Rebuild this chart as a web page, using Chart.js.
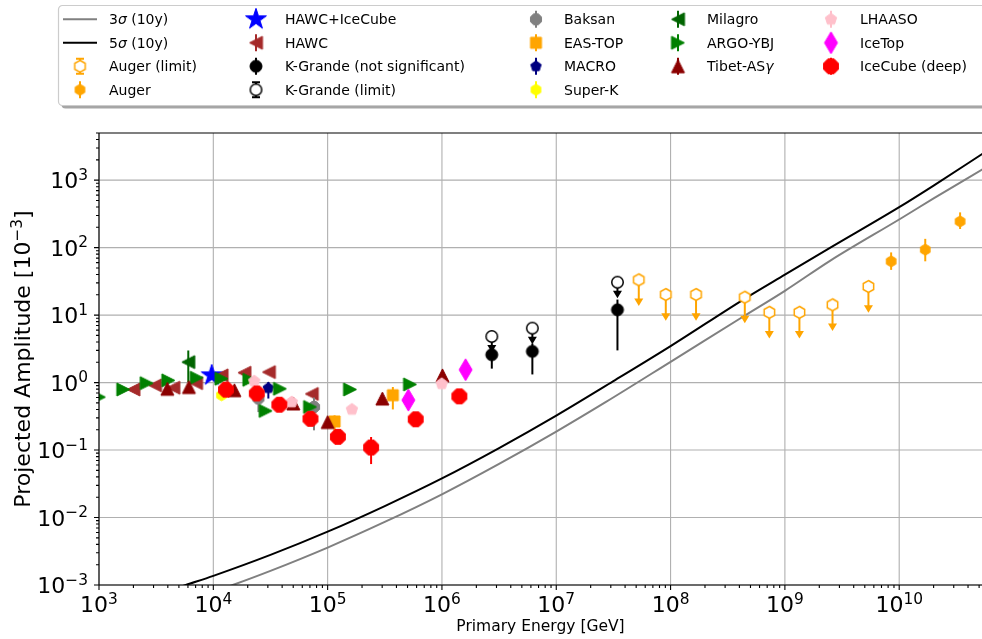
<!DOCTYPE html>
<html>
<head>
<meta charset="utf-8">
<title>Projected amplitude vs primary energy</title>
<script src="https://cdn.jsdelivr.net/npm/chart.js@4.4.1/dist/chart.umd.min.js"></script>
<style>
  html, body { margin: 0; padding: 0; background: #fff; }
  canvas { display: block; }
</style>
</head>
<body>
<canvas id="ampChart" width="982" height="639"></canvas>
<script>
// energies in GeV, amplitudes in units of 1e-3

// 10-year sensitivity curves
const sens3Energy = [1e4, 1.48e4, 3.16e4, 1e5, 3.16e5, 1e6, 3.16e6, 1e7, 2.7e7, 1.05e8, 4.47e8, 1e9, 2.5e9, 1.05e10, 2e10, 5.4e10];
const sens3Amp    = [7.9e-4, 1.0e-3, 1.62e-3, 3.59e-3, 8.6e-3, 0.0221, 0.0624, 0.188, 0.513, 2.14, 9.86, 22.9, 64.3, 275, 537, 1460];
const sens5Energy = [3.98e3, 5.75e3, 1e4, 3.16e4, 1e5, 3.16e5, 1e6, 3.16e6, 1e7, 3.16e7, 1e8, 4.47e8, 1e9, 2.5e9, 1e10, 2e10, 5.4e10];
const sens5Amp    = [8.1e-4, 1.0e-3, 1.365e-3, 2.79e-3, 6.17e-3, 0.0148, 0.038, 0.107, 0.324, 1.05, 3.47, 17.6, 39.8, 100, 398, 832, 2480];

// measurements
const augerLimEnergy = [5.27e7, 9.08e7, 1.67e8, 4.46e8, 7.31e8, 1.34e9, 2.61e9, 5.38e9];
const augerLimAmp    = [33.3, 20.2, 20.2, 18.4, 11.0, 11.0, 14.2, 26.5];

const augerEnergy = [8.5e9, 1.69e10, 3.41e10];
const augerAmp    = [62.7, 93.3, 245];
const augerLo     = [46.8, 62.7, 189];
const augerHi     = [85, 135, 333];

const hawcIceEnergy = [9.68e3];
const hawcIceAmp    = [1.28];

const hawcEnergy = [2.0e3, 3.09e3, 4.47e3, 7.06e3, 1.18e4, 1.87e4, 3.06e4, 7.26e4];
const hawcAmp    = [0.79, 0.91, 0.84, 0.98, 1.28, 1.40, 1.43, 0.68];

const kgEnergy = [2.73e6, 6.18e6, 3.43e7];
const kgAmp    = [2.59, 2.90, 12.0];
const kgLo     = [1.61, 1.32, 3.0];
const kgHi     = [3.4, 3.8, 17];

const kgLimEnergy = [2.73e6, 6.18e6, 3.43e7];
const kgLimAmp    = [4.82, 6.40, 30.7];

const baksanEnergy = [2.48e4, 7.6e4];
const baksanAmp    = [0.58, 0.435];
const baksanLo     = [0.365, 0.196];
const baksanHi     = [0.75, 0.60];

const easTopEnergy = [1.15e5, 3.72e5];
const easTopAmp    = [0.265, 0.65];
const easTopLo     = [0.185, 0.40];
const easTopHi     = [0.327, 0.86];

const macroEnergy = [3.03e4];
const macroAmp    = [0.83];
const macroLo     = [0.58];
const macroHi     = [1.02];

const superKEnergy = [1.18e4];
const superKAmp    = [0.65];

const milagroEnergy = [6.04e3];
const milagroAmp    = [2.01];
const milagroLo     = [1.02];
const milagroHi     = [2.99];

const argoEnergy = [1.0e3, 1.63e3, 2.61e3, 4.04e3, 7.16e3, 1.18e4, 2.07e4, 2.87e4, 3.83e4, 7.02e4, 1.57e5, 5.26e5];
const argoAmp    = [0.61, 0.79, 0.98, 1.08, 1.18, 1.14, 1.10, 0.38, 0.81, 0.435, 0.79, 0.94];

const tibetEnergy = [3.96e3, 6.12e3, 1.53e4, 5.01e4, 1.0e5, 3.01e5, 1.01e6];
const tibetAmp    = [0.81, 0.86, 0.77, 0.49, 0.26, 0.58, 1.28];

const lhaasoEnergy = [2.28e4, 4.86e4, 1.63e5, 9.96e5];
const lhaasoAmp    = [1.05, 0.515, 0.40, 0.96];

const iceTopEnergy = [5.08e5, 1.61e6];
const iceTopAmp    = [0.55, 1.55];

const iceCubeEnergy = [1.29e4, 2.40e4, 3.78e4, 7.08e4, 1.23e5, 2.40e5, 5.90e5, 1.42e6];
const iceCubeAmp    = [0.785, 0.69, 0.47, 0.29, 0.157, 0.109, 0.286, 0.625];
const iceCubeLo     = [null, null, null, null, null, 0.062, null, null];
const iceCubeHi     = [null, null, null, null, null, 0.156, null, null];

// axis decades that get a labelled tick
const xTickExp = [3, 4, 5, 6, 7, 8, 9, 10];
const yTickExp = [-3, -2, -1, 0, 1, 2, 3];

const FONT = '"DejaVu Sans", sans-serif';

// ---- marker sprites (matplotlib-like shapes) ----
function shapePath(g, shape, cx, cy, w, h) {
  const rx = w / 2, ry = h / 2;
  g.beginPath();
  if (shape === 'circle') {
    g.arc(cx, cy, rx, 0, Math.PI * 2);
  } else if (shape === 'square') {
    g.rect(cx - rx, cy - ry, w, h);
  } else if (shape === 'diamond') {
    g.moveTo(cx, cy - ry); g.lineTo(cx + rx, cy); g.lineTo(cx, cy + ry); g.lineTo(cx - rx, cy);
  } else if (shape === 'triUp') {
    g.moveTo(cx, cy - ry); g.lineTo(cx + rx, cy + ry); g.lineTo(cx - rx, cy + ry);
  } else if (shape === 'triLeft') {
    g.moveTo(cx - rx, cy); g.lineTo(cx + rx, cy - ry); g.lineTo(cx + rx, cy + ry);
  } else if (shape === 'triRight') {
    g.moveTo(cx + rx, cy); g.lineTo(cx - rx, cy + ry); g.lineTo(cx - rx, cy - ry);
  } else if (shape === 'star') {
    for (let k = 0; k < 10; k++) {
      const r = k % 2 ? rx * 0.382 : rx;
      const a = -Math.PI / 2 + k * Math.PI / 5;
      k ? g.lineTo(cx + r * Math.cos(a), cy + r * Math.sin(a)) : g.moveTo(cx + r * Math.cos(a), cy + r * Math.sin(a));
    }
  } else {
    const n = { pent: 5, hex: 6, oct: 8 }[shape];
    const a0 = -Math.PI / 2 + (shape === 'oct' ? Math.PI / 8 : 0);
    for (let k = 0; k < n; k++) {
      const a = a0 + k * 2 * Math.PI / n;
      k ? g.lineTo(cx + rx * Math.cos(a), cy + rx * Math.sin(a)) : g.moveTo(cx + rx * Math.cos(a), cy + rx * Math.sin(a));
    }
  }
  g.closePath();
}

function makeMarker(shape, w, h, fill, stroke, lw) {
  const c = document.createElement('canvas');
  c.width = Math.ceil(w + 2 * lw + 2);
  c.height = Math.ceil(h + 2 * lw + 2);
  const g = c.getContext('2d');
  shapePath(g, shape, c.width / 2, c.height / 2, w, h);
  if (fill) { g.fillStyle = fill; g.fill(); }
  if (stroke) { g.strokeStyle = stroke; g.lineWidth = lw; g.stroke(); }
  return c;
}

const markers = {
  augerLim: makeMarker('hex', 12, 12, '#ffffff', '#ffa500', 1.5),
  auger:    makeMarker('hex', 11, 11, '#ffa500', '#ffa500', 1),
  hawcIce:  makeMarker('star', 22, 22, '#0000ff', '#0000ff', 1),
  hawc:     makeMarker('triLeft', 13, 13, '#a52a2a', '#a52a2a', 1),
  kg:       makeMarker('circle', 12, 12, '#000000', '#000000', 1),
  kgLim:    makeMarker('circle', 11.5, 11.5, '#ffffff', '#000000', 1.5),
  baksan:   makeMarker('oct', 12, 12, '#808080', '#808080', 1),
  easTop:   makeMarker('square', 11, 11, '#ffa500', '#ffa500', 1),
  macro:    makeMarker('pent', 11, 11, '#000080', '#000080', 1),
  superK:   makeMarker('hex', 11, 11, '#ffff00', '#ffff00', 1),
  milagro:  makeMarker('triLeft', 13, 13, '#006400', '#006400', 1),
  argo:     makeMarker('triRight', 13, 13, '#008000', '#008000', 1),
  tibet:    makeMarker('triUp', 13, 13, '#8b0000', '#8b0000', 1),
  lhaaso:   makeMarker('pent', 12, 12, '#ffc0cb', '#ffc0cb', 1),
  iceTop:   makeMarker('diamond', 13, 22, '#ff00ff', '#ff00ff', 1),
  iceCube:  makeMarker('oct', 16, 16, '#ff0000', '#ff0000', 1)
};

function pts(E, A) { return E.map((e, i) => ({ x: e, y: A[i] })); }

function curve(label, E, A, color) {
  return { label, data: pts(E, A), showLine: true, borderColor: color, borderWidth: 2,
           pointRadius: 0, cubicInterpolationMode: 'monotone', fill: false, legendLine: color };
}

function series(label, E, A, key, color, extra) {
  return Object.assign({
    label, data: pts(E, A), pointStyle: markers[key], pointRadius: 8,
    backgroundColor: color, borderColor: color, showLine: false,
    barColor: color, legendMarker: markers[key], legendBar: true
  }, extra || {});
}

const datasets = [
  curve('3σ (10y)', sens3Energy, sens3Amp, '#808080'),
  curve('5σ (10y)', sens5Energy, sens5Amp, '#000000'),
  series('Auger (limit)', augerLimEnergy, augerLimAmp, 'augerLim', '#ffa500', { limitTo: 0.41, legendCaps: true }),
  series('Auger', augerEnergy, augerAmp, 'auger', '#ffa500', { errLo: augerLo, errHi: augerHi }),
  series('HAWC+IceCube', hawcIceEnergy, hawcIceAmp, 'hawcIce', '#0000ff', { legendBar: false }),
  series('HAWC', hawcEnergy, hawcAmp, 'hawc', '#a52a2a'),
  series('K-Grande (not significant)', kgEnergy, kgAmp, 'kg', '#000000', { errLo: kgLo, errHi: kgHi }),
  series('K-Grande (limit)', kgLimEnergy, kgLimAmp, 'kgLim', '#000000', { limitTo: 0.58, legendCaps: true }),
  series('Baksan', baksanEnergy, baksanAmp, 'baksan', '#808080', { errLo: baksanLo, errHi: baksanHi }),
  series('EAS-TOP', easTopEnergy, easTopAmp, 'easTop', '#ffa500', { errLo: easTopLo, errHi: easTopHi }),
  series('MACRO', macroEnergy, macroAmp, 'macro', '#000080', { errLo: macroLo, errHi: macroHi }),
  series('Super-K', superKEnergy, superKAmp, 'superK', '#ffff00'),
  series('Milagro', milagroEnergy, milagroAmp, 'milagro', '#006400', { errLo: milagroLo, errHi: milagroHi }),
  series('ARGO-YBJ', argoEnergy, argoAmp, 'argo', '#008000'),
  series('Tibet-ASγ', tibetEnergy, tibetAmp, 'tibet', '#8b0000'),
  series('LHAASO', lhaasoEnergy, lhaasoAmp, 'lhaaso', '#ffc0cb'),
  series('IceTop', iceTopEnergy, iceTopAmp, 'iceTop', '#ff00ff'),
  series('IceCube (deep)', iceCubeEnergy, iceCubeAmp, 'iceCube', '#ff0000', { errLo: iceCubeLo, errHi: iceCubeHi })
];
// later entries sit on top, as in the legend order
datasets.forEach((d, i) => { d.order = -i; });

// ---- text helpers ----
function richRuns(text) {
  return text.split(/([σγ])/).filter(s => s.length).map(s => ({ s, it: /^[σγ]$/.test(s) }));
}
function drawRich(ctx, text, x, y, size) {
  let cx = x;
  for (const r of richRuns(text)) {
    ctx.font = (r.it ? 'italic ' : '') + size + 'px ' + FONT;
    ctx.fillText(r.s, cx, y);
    cx += ctx.measureText(r.s).width;
  }
}
// "10" with a raised exponent
function drawPower(ctx, exp, x, y, align) {
  const sup = exp < 0 ? '\u2212' + Math.abs(exp) : String(exp);
  ctx.font = '22px ' + FONT;
  const wb = ctx.measureText('10').width;
  ctx.font = '15.4px ' + FONT;
  const ws = ctx.measureText(sup).width;
  const left = align === 'right' ? x - wb - ws : x - (wb + ws) / 2;
  ctx.font = '22px ' + FONT;
  ctx.fillText('10', left, y);
  ctx.font = '15.4px ' + FONT;
  ctx.fillText(sup, left + wb, y - 8.5);
}

// ---- plugins ----
const errorBars = {
  id: 'errorBars',
  beforeDatasetDraw(chart, args) {
    const ds = chart.data.datasets[args.index];
    if (!ds.errLo && !ds.limitTo) return;
    const { ctx, chartArea: a, scales: { x: xs, y: ys } } = chart;
    ctx.save();
    ctx.beginPath();
    ctx.rect(a.left, a.top, a.right - a.left, a.bottom - a.top);
    ctx.clip();
    ctx.strokeStyle = ds.barColor;
    ctx.fillStyle = ds.barColor;
    ctx.lineWidth = 2;
    ds.data.forEach((p, i) => {
      const px = xs.getPixelForValue(p.x);
      if (ds.errLo && ds.errLo[i] != null) {
        ctx.beginPath();
        ctx.moveTo(px, ys.getPixelForValue(ds.errLo[i]));
        ctx.lineTo(px, ys.getPixelForValue(ds.errHi[i]));
        ctx.stroke();
      }
      if (ds.limitTo) {
        const y0 = ys.getPixelForValue(p.y);
        const tip = ys.getPixelForValue(p.y * ds.limitTo);
        ctx.beginPath();
        ctx.moveTo(px, y0);
        ctx.lineTo(px, tip - 5);
        ctx.stroke();
        ctx.beginPath();
        ctx.moveTo(px - 4.5, tip - 7.5);
        ctx.lineTo(px + 4.5, tip - 7.5);
        ctx.lineTo(px, tip);
        ctx.closePath();
        ctx.fill();
      }
    });
    ctx.restore();
  }
};

const axesFrame = {
  id: 'axesFrame',
  beforeDatasetsDraw(chart) {
    const { ctx, chartArea: a, scales: { x, y } } = chart;
    ctx.save();
    ctx.strokeStyle = '#b0b0b0';
    ctx.lineWidth = 1.1;
    ctx.beginPath();
    xTickExp.forEach(e => {
      const px = x.getPixelForValue(Math.pow(10, e));
      ctx.moveTo(px, a.top); ctx.lineTo(px, a.bottom);
    });
    yTickExp.forEach(e => {
      const py = y.getPixelForValue(Math.pow(10, e));
      ctx.moveTo(a.left, py); ctx.lineTo(a.right, py);
    });
    ctx.stroke();
    ctx.restore();
  },
  afterDatasetsDraw(chart) {
    const { ctx, chartArea: a, scales: { x, y } } = chart;
    ctx.save();
    ctx.strokeStyle = '#000';
    ctx.lineWidth = 1.1;
    ctx.beginPath();
    ctx.moveTo(a.left, a.top); ctx.lineTo(a.right, a.top);
    ctx.moveTo(a.left, a.top); ctx.lineTo(a.left, a.bottom);
    ctx.moveTo(a.left, a.bottom); ctx.lineTo(a.right, a.bottom);
    // major and minor ticks, pointing outwards
    for (let e = 2; e <= 11; e++) {
      for (let m = 1; m <= 9; m++) {
        const v = m * Math.pow(10, e);
        if (v < x.min || v > x.max) continue;
        const px = x.getPixelForValue(v);
        ctx.moveTo(px, a.bottom); ctx.lineTo(px, a.bottom + (m === 1 ? 5 : 3));
      }
    }
    for (let e = -4; e <= 4; e++) {
      for (let m = 1; m <= 9; m++) {
        const v = m * Math.pow(10, e);
        if (v < y.min || v > y.max) continue;
        const py = y.getPixelForValue(v);
        ctx.moveTo(a.left, py); ctx.lineTo(a.left - (m === 1 ? 5 : 3), py);
      }
    }
    ctx.stroke();

    ctx.fillStyle = '#000';
    ctx.textBaseline = 'alphabetic';
    xTickExp.forEach(e => drawPower(ctx, e, x.getPixelForValue(Math.pow(10, e)), 612, 'center'));
    yTickExp.forEach(e => drawPower(ctx, e, 88, y.getPixelForValue(Math.pow(10, e)) + 8, 'right'));

    // axis titles
    ctx.font = '15.5px ' + FONT;
    ctx.textAlign = 'center';
    ctx.fillText('Primary Energy [GeV]', (a.left + a.right) / 2, 631);
    ctx.textAlign = 'left';

    ctx.translate(30, (a.top + a.bottom) / 2);
    ctx.rotate(-Math.PI / 2);
    ctx.font = '22px ' + FONT;
    const t1 = 'Projected Amplitude [10', t2 = '\u22123', t3 = ']';
    const w1 = ctx.measureText(t1).width, w3 = ctx.measureText(t3).width;
    ctx.font = '15.4px ' + FONT;
    const w2 = ctx.measureText(t2).width;
    let cx = -(w1 + w2 + w3) / 2;
    ctx.font = '22px ' + FONT;
    ctx.fillText(t1, cx, 0); cx += w1;
    ctx.font = '15.4px ' + FONT;
    ctx.fillText(t2, cx, -8.5); cx += w2;
    ctx.font = '22px ' + FONT;
    ctx.fillText(t3, cx, 0);
    ctx.restore();
  }
};

function roundRect(ctx, l, t, r, b, rad) {
  ctx.beginPath();
  ctx.moveTo(l + rad, t);
  ctx.arcTo(r, t, r, b, rad);
  ctx.arcTo(r, b, l, b, rad);
  ctx.arcTo(l, b, l, t, rad);
  ctx.arcTo(l, t, r, t, rad);
  ctx.closePath();
}

const legendBox = { left: 58.5, top: 5.5, right: 995, bottom: 105.5 };
const legendCols = [{ mark: 80, text: 109 }, { mark: 256, text: 285 }, { mark: 536, text: 564 },
                    { mark: 678, text: 707 }, { mark: 831, text: 860 }];
const legendRows = [19.3, 42.8, 66.3, 89.8];
const legendPerCol = [4, 4, 4, 3, 3];

const framedLegend = {
  id: 'framedLegend',
  afterDraw(chart) {
    const ctx = chart.ctx, b = legendBox;
    ctx.save();
    roundRect(ctx, b.left + 3, b.top + 3, b.right + 3, b.bottom + 3, 4);
    ctx.fillStyle = 'rgba(77,77,77,0.5)';
    ctx.fill();
    roundRect(ctx, b.left, b.top, b.right, b.bottom, 4);
    ctx.fillStyle = '#ffffff';
    ctx.fill();
    ctx.strokeStyle = '#cccccc';
    ctx.lineWidth = 1.2;
    ctx.stroke();

    let idx = 0;
    legendPerCol.forEach((n, c) => {
      for (let r = 0; r < n; r++, idx++) {
        const ds = chart.data.datasets[idx];
        const mx = legendCols[c].mark, my = legendRows[r];
        if (ds.legendLine) {
          ctx.strokeStyle = ds.legendLine;
          ctx.lineWidth = 2;
          ctx.beginPath();
          ctx.moveTo(mx - 17, my); ctx.lineTo(mx + 17, my);
          ctx.stroke();
        } else {
          ctx.strokeStyle = ds.barColor;
          ctx.lineWidth = 2;
          if (ds.legendBar) {
            ctx.beginPath();
            ctx.moveTo(mx, my - 8.5); ctx.lineTo(mx, my + 8.5);
            if (ds.legendCaps) {
              ctx.moveTo(mx - 4, my - 7.5); ctx.lineTo(mx + 4, my - 7.5);
              ctx.moveTo(mx - 4, my + 7.5); ctx.lineTo(mx + 4, my + 7.5);
            }
            ctx.stroke();
          }
          const m = ds.legendMarker;
          ctx.drawImage(m, mx - m.width / 2, my - m.height / 2);
        }
        ctx.fillStyle = '#000';
        drawRich(ctx, ds.label, legendCols[c].text, my + 5, 14);
      }
    });
    ctx.restore();
  }
};

const chart = new Chart(document.getElementById('ampChart').getContext('2d'), {
  type: 'scatter',
  data: { datasets },
  options: {
    responsive: false,
    animation: false,
    events: [],
    layout: { autoPadding: false, padding: { left: 99, top: 133, right: 0, bottom: 54 } },
    scales: {
      x: { type: 'logarithmic', min: 1e3, max: 5.3e10, display: false },
      y: { type: 'logarithmic', min: 1e-3, max: 5e3, display: false }
    },
    plugins: {
      legend: { display: false },
      tooltip: { enabled: false }
    }
  },
  plugins: [axesFrame, errorBars, framedLegend]
});
</script>
</body>
</html>
